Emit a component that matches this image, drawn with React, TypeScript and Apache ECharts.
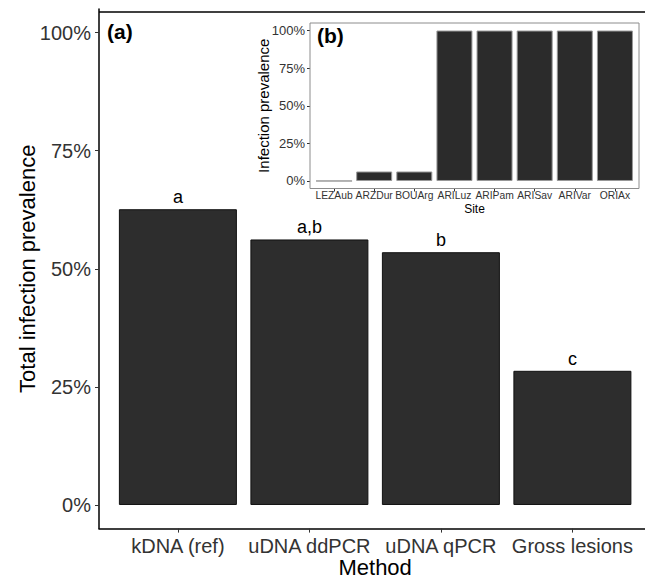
import React, { useEffect, useRef } from "react";
import * as echarts from "echarts";

const methods = ["kDNA (ref)", "uDNA ddPCR", "uDNA qPCR", "Gross lesions"];
const prevalence = [62.6, 56.2, 53.5, 28.4];
const letters = ["a", "a,b", "b", "c"];

const sites = ["LEZAub", "ARZDur", "BOUArg", "ARILuz", "ARIPam", "ARISav", "ARIVar", "ORIAx"];
const sitePrevalence = [0, 6.3, 6.3, 100, 100, 100, 100, 100];

const yTicks = [0, 25, 50, 75, 100];

const FONT = "'Liberation Sans', Arial, Helvetica, sans-serif";

export default function App() {
  const ref = useRef<HTMLDivElement>(null);

  useEffect(() => {
    if (!ref.current) return;
    const chart = echarts.init(ref.current, null, { renderer: "svg" });

    const mainPos = methods.map((_, i) => i + 1);
    const sitePos = sites.map((_, i) => i + 1);

    const option: any = {
      animation: false,
      backgroundColor: "#ffffff",
      textStyle: { fontFamily: FONT },
      grid: [
        { left: 99, top: 8.9, width: 552.3, height: 519.7, containLabel: false, outerBoundsMode: "none" },
        { left: 310, top: 23, width: 329, height: 165.5, containLabel: false, outerBoundsMode: "none" },
      ],
      xAxis: [
        {
          type: "value",
          gridIndex: 0,
          min: 0.4,
          max: 4.6,
          splitLine: { show: false },
          axisLine: { show: true, onZero: false, lineStyle: { color: "#000", width: 1.5 } },
          axisTick: { show: true, customValues: mainPos, length: 4, lineStyle: { color: "#333", width: 1 } },
          axisLabel: {
            show: true,
            customValues: mainPos,
            formatter: (v: number) => methods[Math.round(v) - 1] ?? "",
            color: "#333",
            fontSize: 20,
            margin: 7,
            showMinLabel: true,
            showMaxLabel: true,
            hideOverlap: false,
            fontFamily: FONT,
          },
          name: "Method",
          nameLocation: "middle",
          nameGap: 28,
          nameMoveOverlap: false,
          nameTextStyle: { fontSize: 22, color: "#000", fontFamily: FONT },
        },
        {
          type: "value",
          gridIndex: 1,
          min: 0.4,
          max: 8.6,
          splitLine: { show: false },
          axisLine: { show: false, onZero: false },
          axisTick: { show: true, customValues: sitePos, length: 3, lineStyle: { color: "#333", width: 1 } },
          axisLabel: {
            show: true,
            customValues: sitePos,
            formatter: (v: number) => sites[Math.round(v) - 1] ?? "",
            color: "#333",
            fontSize: 10.3,
            margin: 2,
            showMinLabel: true,
            showMaxLabel: true,
            hideOverlap: false,
            fontFamily: FONT,
          },
          name: "Site",
          nameLocation: "middle",
          nameGap: 14,
          nameMoveOverlap: false,
          nameTextStyle: { fontSize: 12, color: "#000", fontFamily: FONT },
        },
      ],
      yAxis: [
        {
          type: "value",
          gridIndex: 0,
          min: -5,
          max: 105,
          splitLine: { show: false },
          axisLine: { show: true, onZero: false, lineStyle: { color: "#000", width: 1.5 } },
          axisTick: { show: true, customValues: yTicks, length: 4, lineStyle: { color: "#333", width: 1 } },
          axisLabel: {
            show: true,
            customValues: yTicks,
            formatter: (v: number) => `${v}%`,
            color: "#333",
            fontSize: 20,
            margin: 8,
            showMinLabel: true,
            showMaxLabel: true,
            fontFamily: FONT,
          },
          name: "Total infection prevalence",
          nameLocation: "middle",
          nameRotate: 90,
          nameGap: 61,
          nameMoveOverlap: false,
          nameTextStyle: { fontSize: 22, color: "#000", fontFamily: FONT },
        },
        {
          type: "value",
          gridIndex: 1,
          min: -5,
          max: 105,
          splitLine: { show: false },
          axisLine: { show: false, onZero: false },
          axisTick: { show: true, customValues: yTicks, length: 3, lineStyle: { color: "#333", width: 1 } },
          axisLabel: {
            show: true,
            customValues: yTicks,
            formatter: (v: number) => `${v}%`,
            color: "#333",
            fontSize: 13,
            margin: 5,
            showMinLabel: true,
            showMaxLabel: true,
            fontFamily: FONT,
          },
          name: "Infection prevalence",
          nameLocation: "middle",
          nameRotate: 90,
          nameGap: 39,
          nameMoveOverlap: false,
          nameTextStyle: { fontSize: 15, color: "#000", fontFamily: FONT },
        },
      ],
      series: [
        {
          type: "bar",
          xAxisIndex: 0,
          yAxisIndex: 0,
          barWidth: 118,
          data: prevalence.map((v, i) => [i + 1, v]),
          itemStyle: { color: "#2d2d2d", borderColor: "#111", borderWidth: 1 },
          label: {
            show: true,
            position: "top",
            distance: 3,
            formatter: (p: any) => letters[p.dataIndex],
            color: "#000",
            fontSize: 18,
            fontFamily: FONT,
          },
        },
        {
          type: "bar",
          xAxisIndex: 1,
          yAxisIndex: 1,
          barWidth: 36,
          data: sitePrevalence.map((v, i) => [i + 1, v]),
          itemStyle: { color: "#2b2b2b", borderColor: "#999", borderWidth: 1 },
        },
      ],
      graphic: [
        {
          type: "line",
          shape: { x1: 99, y1: 12, x2: 645, y2: 12 },
          style: { stroke: "#000", lineWidth: 1.5 },
          silent: true,
        },
        {
          type: "rect",
          shape: { x: 310, y: 23, width: 329, height: 165.5 },
          style: { fill: "none", stroke: "#8c8c8c", lineWidth: 1 },
          silent: true,
          z: 10,
        },
        {
          type: "text",
          x: 107,
          y: 21,
          style: { text: "(a)", fontSize: 21, fontWeight: "bold", fill: "#000", fontFamily: FONT },
          silent: true,
        },
        {
          type: "text",
          x: 317,
          y: 25,
          style: { text: "(b)", fontSize: 21, fontWeight: "bold", fill: "#000", fontFamily: FONT },
          silent: true,
        },
      ],
    };

    chart.setOption(option);
    return () => chart.dispose();
  }, []);

  return <div ref={ref} style={{ width: 645, height: 581, position: "absolute", left: 0, top: 0 }} />;
}
